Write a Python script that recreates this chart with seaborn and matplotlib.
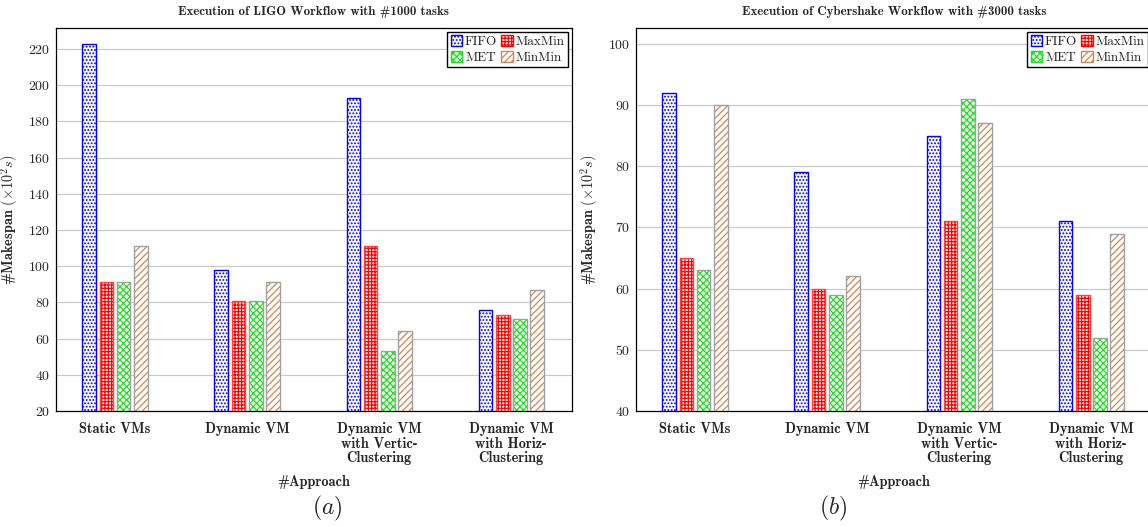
import numpy as np
import pandas as pd
import matplotlib
matplotlib.use("Agg")
import matplotlib.pyplot as plt
from matplotlib.patches import Patch, Rectangle
import seaborn as sns

# ================= Data =================
APPROACHES = ["Static VMs", "Dynamic VM", "Dynamic VM\nwith Vertic-\nClustering",
              "Dynamic VM\nwith Horiz-\nClustering"]
SCHEDULERS = ["FIFO", "MaxMin", "MET", "MinMin"]

LIGO_FIFO = [223, 98, 193, 76]
LIGO_MAXMIN = [91, 81, 111, 73]
LIGO_MET = [91, 81, 53, 71]
LIGO_MINMIN = [111, 91, 64, 87]

CYBER_FIFO = [92, 79, 85, 71]
CYBER_MAXMIN = [65, 60, 71, 59]
CYBER_MET = [63, 59, 91, 52]
CYBER_MINMIN = [90, 62, 87, 69]

LIGO_YTICKS = list(range(20, 221, 20))
CYBER_YTICKS = list(range(40, 101, 10))

# ================= Style =================
sns.set_style("white")
plt.rcParams["font.family"] = ["cmr10", "DejaVu Serif"]
plt.rcParams["mathtext.fontset"] = "cm"
plt.rcParams["axes.formatter.use_mathtext"] = True
plt.rcParams["hatch.linewidth"] = 0.9

HATCH_COLORS = {"FIFO": "#0000ff", "MaxMin": "#ff0000", "MET": "#1ee01e", "MinMin": "#d08850"}
EDGE_COLORS = {"FIFO": "#0000ff", "MaxMin": "#ff4040", "MET": "#a0a0a0", "MinMin": "#a0a0a0"}
HATCHES = {"FIFO": ".....", "MaxMin": "+++++", "MET": "xxxxx", "MinMin": "/////"}


def make_frame(fifo, maxmin, met, minmin):
    rows = []
    for name, vals in zip(SCHEDULERS, [fifo, maxmin, met, minmin]):
        for app, v in zip(APPROACHES, vals):
            rows.append({"Approach": app, "Scheduler": name, "Makespan": v})
    return pd.DataFrame(rows)


def draw_panel(ax, df, yticks, ylim, title):
    sns.barplot(data=df, x="Approach", y="Makespan", hue="Scheduler",
                hue_order=SCHEDULERS, order=APPROACHES, ax=ax,
                width=0.52, gap=0.2, legend=False, zorder=2)
    for name, cont in zip(SCHEDULERS, ax.containers):
        for p in cont:
            p.set_facecolor("white")
            p.set_edgecolor(HATCH_COLORS[name])
            p.set_hatch(HATCHES[name])
            p.set_linewidth(0)
            ax.add_patch(Rectangle(p.get_xy(), p.get_width(), p.get_height(),
                                   fill=False, edgecolor=EDGE_COLORS[name],
                                   linewidth=1.0, zorder=3))
    ax.set_ylim(*ylim)
    ax.set_xlim(-0.447, 3.46)
    ax.set_yticks(yticks)
    ax.yaxis.grid(True, color="#c8c8c8", linewidth=0.8, zorder=0)
    ax.set_axisbelow(True)
    for s in ax.spines.values():
        s.set_color("black")
        s.set_linewidth(0.9)
        s.set_visible(True)
    ax.tick_params(axis="both", direction="in", length=4, color="#999999",
                   labelsize=10, pad=4)
    ax.tick_params(axis="x", pad=8)
    ax.set_xticks(range(len(APPROACHES)))
    ax.set_xticklabels(APPROACHES, fontfamily="cmb10", fontsize=10.3,
                       linespacing=1.05)
    ax.set_xlabel("#Approach", fontfamily="cmb10", fontsize=10.3, labelpad=7)
    ax.set_ylabel(r"#Makespan $(\times 10^2 s)$", fontfamily="cmb10", fontsize=10.3,
                  labelpad=6)
    ax.set_title(title, fontfamily="cmb10", fontsize=9.3, pad=9)
    order = ["FIFO", "MET", "MaxMin", "MinMin"]
    handles = [Patch(facecolor="white", edgecolor=HATCH_COLORS[n], hatch=HATCHES[n],
                     label=n) for n in order]
    ax.legend(handles=handles, loc="upper right", ncol=2, fontsize=9.5,
              frameon=True, fancybox=False, edgecolor="black", framealpha=1,
              handlelength=0.9, handleheight=0.9, handletextpad=0.2,
              columnspacing=0.3, borderpad=0.25, labelspacing=0.2,
              borderaxespad=0.3)


fig = plt.figure(figsize=(11.48, 5.27), dpi=100)
ax1 = fig.add_axes([56 / 1148, 116 / 527, 516 / 1148, 383 / 527])
ax2 = fig.add_axes([636 / 1148, 116 / 527, 516 / 1148, 383 / 527])

draw_panel(ax1, make_frame(LIGO_FIFO, LIGO_MAXMIN, LIGO_MET, LIGO_MINMIN),
           LIGO_YTICKS, (20, 231.6), "Execution of LIGO Workflow with #1000 tasks")
draw_panel(ax2, make_frame(CYBER_FIFO, CYBER_MAXMIN, CYBER_MET, CYBER_MINMIN),
           CYBER_YTICKS, (40, 102.6), "Execution of Cybershake Workflow with #3000 tasks")

fig.text(327 / 1148, 1 - 508 / 527, r"$(a)$", fontsize=17, ha="center", va="center")
fig.text(833 / 1148, 1 - 508 / 527, r"$(b)$", fontsize=17, ha="center", va="center")

fig.savefig("out.png", dpi=100)
